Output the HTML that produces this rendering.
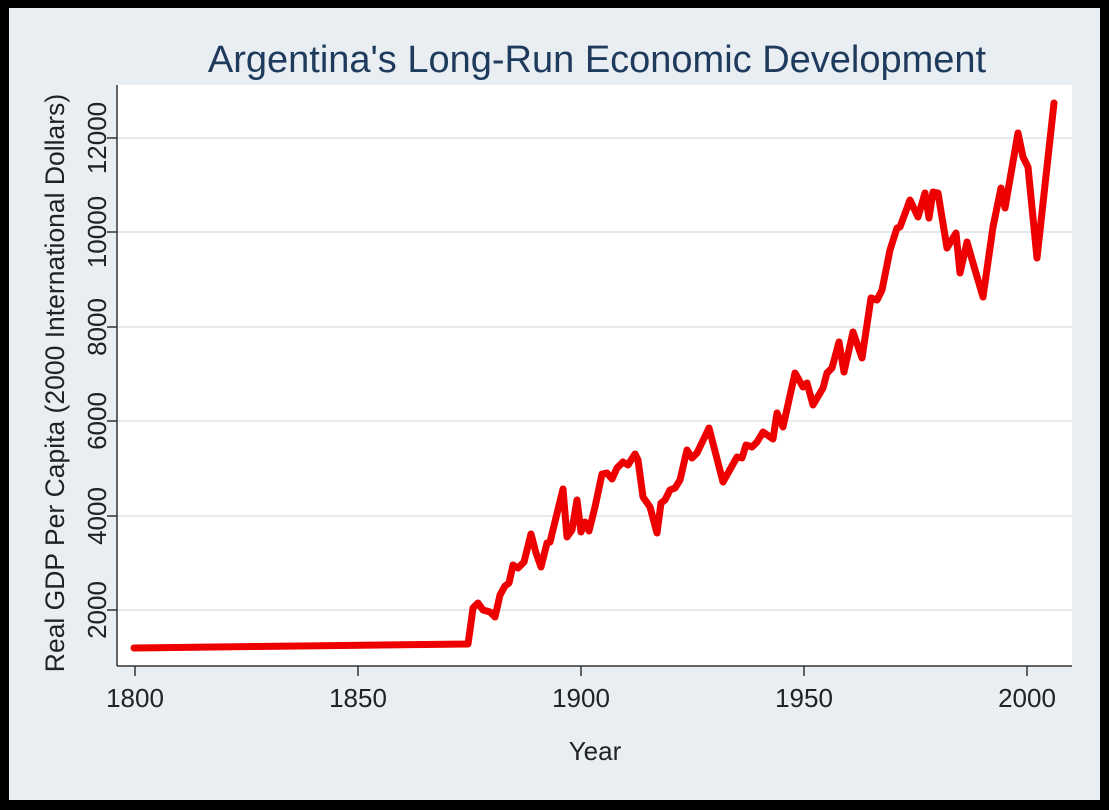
<!DOCTYPE html>
<html><head><meta charset="utf-8"><style>
html,body{margin:0;padding:0;background:#000;}
svg{display:block;}
</style></head><body>
<svg width="1109" height="810" viewBox="0 0 1109 810" xmlns="http://www.w3.org/2000/svg" font-family="Liberation Sans, sans-serif">
<rect x="0" y="0" width="1109" height="810" fill="#000"/>
<rect x="9" y="8" width="1091" height="792" fill="#e9eef2"/>
<rect x="117" y="85" width="955" height="581" fill="#fff"/>
<g stroke="#e6eaee" stroke-width="2">
<line x1="117" x2="1072" y1="610" y2="610"/>
<line x1="117" x2="1072" y1="516" y2="516"/>
<line x1="117" x2="1072" y1="421" y2="421"/>
<line x1="117" x2="1072" y1="327" y2="327"/>
<line x1="117" x2="1072" y1="232" y2="232"/>
<line x1="117" x2="1072" y1="138" y2="138"/>
</g>
<g stroke="#333" stroke-width="1.5">
<line x1="117" y1="85" x2="117" y2="666"/>
<line x1="117" y1="666" x2="1072" y2="666"/>
<line x1="107" x2="117" y1="610" y2="610"/>
<line x1="107" x2="117" y1="516" y2="516"/>
<line x1="107" x2="117" y1="421" y2="421"/>
<line x1="107" x2="117" y1="327" y2="327"/>
<line x1="107" x2="117" y1="232" y2="232"/>
<line x1="107" x2="117" y1="138" y2="138"/>
<line x1="135" x2="135" y1="666" y2="676"/>
<line x1="358" x2="358" y1="666" y2="676"/>
<line x1="581" x2="581" y1="666" y2="676"/>
<line x1="804" x2="804" y1="666" y2="676"/>
<line x1="1027" x2="1027" y1="666" y2="676"/>
</g>
<g font-size="26" fill="#222" text-anchor="middle">
<text transform="translate(106,610) rotate(-90)">2000</text>
<text transform="translate(106,516) rotate(-90)">4000</text>
<text transform="translate(106,421) rotate(-90)">6000</text>
<text transform="translate(106,327) rotate(-90)">8000</text>
<text transform="translate(106,232) rotate(-90)">10000</text>
<text transform="translate(106,138) rotate(-90)">12000</text>
<text x="135" y="707">1800</text>
<text x="358" y="707">1850</text>
<text x="581" y="707">1900</text>
<text x="804" y="707">1950</text>
<text x="1027" y="707">2000</text>
<text x="595" y="760">Year</text>
<text transform="translate(64,383) rotate(-90)" font-size="26.5">Real GDP Per Capita (2000 International Dollars)</text>
</g>
<text x="597" y="72" font-size="38" fill="#1e3a5c" text-anchor="middle">Argentina's Long-Run Economic Development</text>
<polyline fill="none" stroke="#ee0000" stroke-width="7" stroke-linejoin="round" stroke-linecap="round" points="134,648 300,646 468,644 470,630 473,608 478,603 483,610 490,612 495,617 500,595 505,586 509,583 513,565 518,568 524,562 531,534 536,553 541,567 547,543 550,542 563,489 567,537 572,530 577,500 581,532 585,522 589,531 595,507 602,474 607,473 612,479 617,468 623,462 628,465 635,454 638,460 643,497 650,507 657,533 661,503 665,500 670,490 675,488 680,480 687,450 692,458 697,453 709,428 723,482 737,457 742,458 746,445 752,447 757,442 763,432 773,439 777,413 783,427 795,373 803,387 807,383 813,405 823,388 827,373 832,368 839,342 844,372 853,332 862,358 871,298 877,300 882,290 890,250 897,228 900,227 910,200 918,217 925,193 929,218 933,192 938,193 947,248 956,233 960,273 967,242 973,263 983,297 993,227 1001,188 1005,208 1018,133 1023,157 1028,167 1037,258 1054,103"/>
</svg>
</body></html>
